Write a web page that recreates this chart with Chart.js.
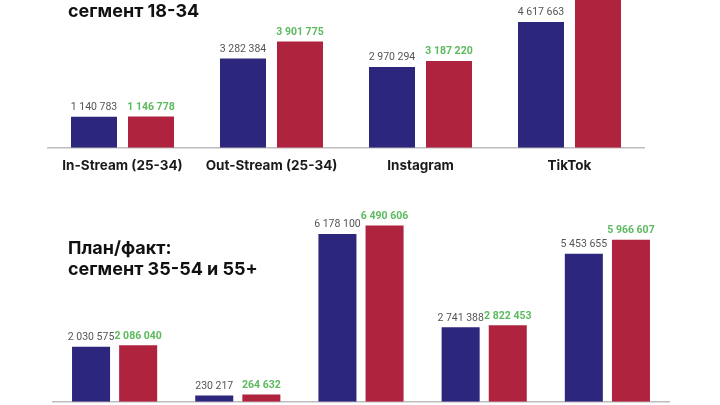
<!DOCTYPE html>
<html>
<head>
<meta charset="utf-8">
<script src="https://cdn.jsdelivr.net/npm/chart.js@4/dist/chart.umd.min.js"></script>
<style>
  html, body { margin: 0; padding: 0; background: #fff; }
  body { width: 720px; height: 405px; overflow: hidden; position: relative; font-family: Inter, sans-serif; }
  .box { position: absolute; left: 0; width: 720px; height: 270px; }
  .title { position: absolute; left: 68px; font: 700 18px/21px Inter, sans-serif; color: #111; white-space: nowrap; }
</style>
</head>
<body>
<div class="box" style="top:-80px"><canvas id="chart-young"></canvas></div>
<div class="box" style="top:180px"><canvas id="chart-old"></canvas></div>
<div class="title" style="top:-21px">План/факт:<br>сегмент 18-34</div>
<div class="title" style="top:237px">План/факт:<br>сегмент 35-54 и 55+</div>
<script>
const youngLabels = ["In-Stream (25-34)", "Out-Stream (25-34)", "Instagram", "TikTok"];
const youngPlan = [1140783, 3282384, 2970294, 4617663];
const youngFact = [1146778, 3901775, 3187220, 5950000];

const oldLabels = ["In-Stream (35-54)", "In-Stream (55+)", "Out-Stream (35-54)", "Instagram", "TikTok"];
const oldPlan = [2030575, 230217, 6178100, 2741388, 5453655];
const oldFact = [2086040, 264632, 6490606, 2822453, 5966607];

const BLUE = "#2c267c";
const RED = "#b0233f";
const GREEN = "#5cba5f";

function fmt(n) {
  return String(n).replace(/\B(?=(\d{3})+(?!\d))/g, " ");
}

// value labels above bars: plan in gray, fact in bold green
const valueLabels = {
  id: "valueLabels",
  afterDatasetsDraw(chart) {
    const ctx = chart.ctx;
    ctx.save();
    ctx.textAlign = "center";
    ctx.textBaseline = "bottom";
    chart.data.datasets.forEach((ds, i) => {
      const meta = chart.getDatasetMeta(i);
      ctx.font = i === 0 ? "400 10.5px Roboto" : "700 10.5px Roboto";
      ctx.fillStyle = i === 0 ? "#555" : GREEN;
      meta.data.forEach((bar, j) => {
        ctx.fillText(fmt(ds.data[j]), bar.x, bar.y - 4);
      });
    });
    ctx.restore();
  }
};

function makeChart(id, labels, plan, fact, yMax, padding) {
  return new Chart(document.getElementById(id), {
    type: "bar",
    data: {
      labels,
      datasets: [
        { label: "План", data: plan, backgroundColor: BLUE },
        { label: "Факт", data: fact, backgroundColor: RED }
      ]
    },
    options: {
      responsive: true,
      maintainAspectRatio: false,
      animation: false,
      categoryPercentage: 0.765,
      barPercentage: 0.807,
      layout: { padding },
      plugins: { legend: { display: false }, tooltip: { enabled: false } },
      scales: {
        x: {
          grid: { display: false, drawTicks: false },
          border: { color: "#bdbdbd", width: 1.5 },
          ticks: {
            color: "#1a1a1a",
            font: { family: "Inter", weight: "700", size: 13.5 },
            padding: 10,
            maxRotation: 0,
            autoSkip: false
          }
        },
        y: { display: false, min: 0, max: yMax }
      }
    },
    plugins: [valueLabels]
  });
}

makeChart("chart-young", youngLabels, youngPlan, youngFact, 8000000, { left: 48, right: 76, top: 10, bottom: 6 });
makeChart("chart-old", oldLabels, oldPlan, oldFact, 7800000, { left: 53, right: 51, top: 10, bottom: 12 });
</script>
</body>
</html>
